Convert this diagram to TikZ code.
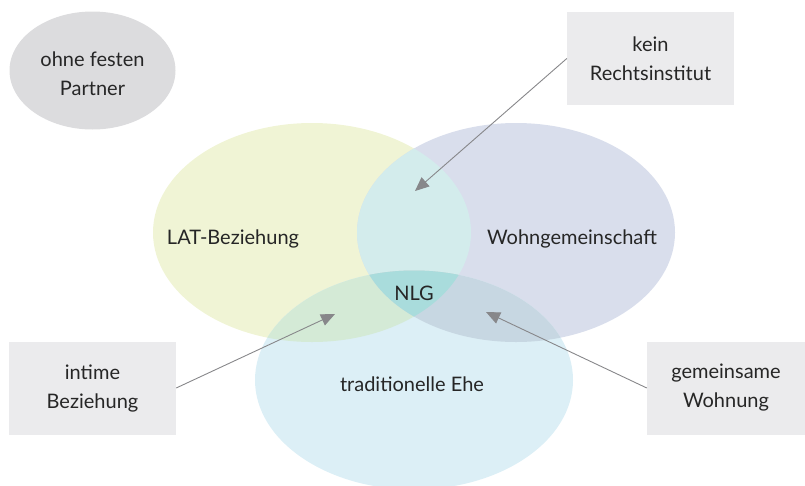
\documentclass[tikz,border=0pt]{standalone}
\usepackage{fontspec}
\setmainfont{Lato}
\usetikzlibrary{arrows.meta}
\definecolor{cyel}{HTML}{F0F4D5}
\definecolor{cpur}{HTML}{D9DEEC}
\definecolor{cblu}{HTML}{DCEFF6}
\definecolor{cyp}{HTML}{D3ECEC}
\definecolor{cyb}{HTML}{D4EAD6}
\definecolor{cpb}{HTML}{C7D7E2}
\definecolor{call}{HTML}{A9DCDC}
\definecolor{cgray}{HTML}{DCDCDE}
\definecolor{cbox}{HTML}{EBEBED}
\definecolor{ctext}{HTML}{262626}
\definecolor{carrow}{HTML}{87878A}
\tikzset{
  lbl/.style={text=ctext, font=\fontsize{20}{29}\selectfont, align=center, inner sep=0pt},
  notebox/.style={lbl, fill=cbox, minimum height=93pt, inner sep=0pt},
  pointer/.style={draw=carrow, line width=0.9pt, -{Triangle[length=14pt, width=12pt]}},
}
\begin{document}
\begin{tikzpicture}[x=1pt,y=-1pt]
\useasboundingbox (0,0) rectangle (805,485);
% circles
\def\ey{(312,232.5) ellipse [x radius=159pt, y radius=109.5pt]}
\def\ep{(516,232.5) ellipse [x radius=159pt, y radius=109.5pt]}
\def\eb{(414,380) ellipse [x radius=159pt, y radius=109.5pt]}
\fill[cgray] (92.5,70.5) ellipse [x radius=83pt, y radius=59pt];
\fill[cyel] \ey;
\fill[cpur] \ep;
\fill[cblu] \eb;
\begin{scope}\clip \ey; \fill[cyp] \ep; \end{scope}
\begin{scope}\clip \ey; \fill[cyb] \eb; \end{scope}
\begin{scope}\clip \ep; \fill[cpb] \eb; \end{scope}
\begin{scope}\clip \ey; \clip \ep; \fill[call] \eb; \end{scope}
% labels
\node[lbl] (ohne) at (92.5,74) {ohne festen\\Partner};
\node[lbl] (lat) at (233,239) {LAT-Beziehung};
\node[lbl] (wg) at (572,239) {Wohngemeinschaft};
\node[lbl] (nlg) at (414,293) {NLG};
\node[lbl] (ehe) at (412,384) {traditionelle Ehe};
% boxes
\node[notebox, minimum width=167pt] (kein) at (650.5,58.5) {kein\\Rechtsinstitut};
\node[notebox, minimum width=167pt] (intim) at (92.5,388) {intime\\Beziehung};
\node[notebox, minimum width=158pt] (gem) at (726,388) {gemeinsame\\Wohnung};
% arrow targets
\coordinate (tk) at (415,191);
\coordinate (ti) at (335,314);
\coordinate (tg) at (486,312);
\draw[pointer] (kein.west) -- (tk);
\draw[pointer] (intim.east) -- (ti);
\draw[pointer] (gem.west) -- (tg);
\end{tikzpicture}
\end{document}
